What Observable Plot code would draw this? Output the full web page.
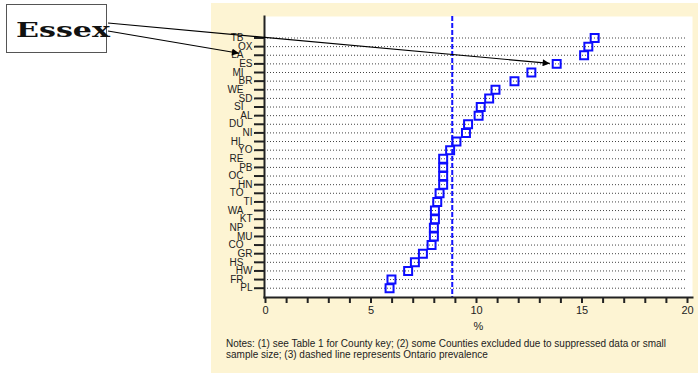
<!DOCTYPE html>
<html>
<head>
<meta charset="utf-8">
<script src="https://cdn.jsdelivr.net/npm/d3@7"></script>
<script src="https://cdn.jsdelivr.net/npm/@observablehq/plot@0.6"></script>
<style>
  html, body { margin: 0; padding: 0; background: #fff; }
  #wrap { position: relative; width: 698px; height: 373px; overflow: hidden;
          font-family: "Liberation Sans", Arial, sans-serif; }
  #panel { position: absolute; left: 211px; top: 3px; width: 487px; height: 370px; background: #fdf4d3; }
  #chart { position: absolute; left: 211px; top: 3px; }
  #notes { position: absolute; left: 226px; top: 338px; font-size: 10px; line-height: 11px;
           color: #222; white-space: nowrap; }
  #overlay { position: absolute; left: 0; top: 0; pointer-events: none; }
</style>
</head>
<body>
<div id="wrap">
  <div id="panel"></div>
  <div id="chart"></div>
  <div id="notes">Notes: (1) see Table 1 for County key; (2) some Counties excluded due to suppressed data or small<br>sample size; (3) dashed line represents Ontario prevalence</div>
  <svg id="overlay" width="698" height="373"></svg>
</div>
<script>
// County codes, top to bottom
const counties = ["TB","OX","LA","ES","MI","BR","WE","SD","SI","AL","DU","NI","HL","YO","RE",
                  "PB","OC","HN","TO","TI","WA","KT","NP","MU","CO","GR","HS","HW","FR","PL"];
// Prevalence (%) per county
const prevalence = [15.6, 15.3, 15.1, 13.8, 12.6, 11.8, 10.9, 10.6, 10.2, 10.1, 9.6, 9.5, 9.05, 8.75, 8.42,
                    8.42, 8.42, 8.42, 8.25, 8.14, 8.03, 8.03, 7.98, 7.98, 7.87, 7.46, 7.08, 6.76, 5.97, 5.88];
// Ontario prevalence (%)
const ontario = 8.85;
// x-axis ticks: every unit, labelled every 5
const xTicks = d3.range(0, 21);
// Highlighted county and the label row its second pointer lands on
const highlight = "ES";
const pointerRow = "LA";

const rows = counties.map((county, i) => ({county, pct: prevalence[i]}));
const leftLabels = counties.filter((_, i) => i % 2 === 0);
const rightLabels = counties.filter((_, i) => i % 2 === 1);

const marginLeft = 53, marginTop = 13;
const chart = Plot.plot({
  width: 487,
  height: 332,
  marginLeft, marginRight: 6, marginTop, marginBottom: 38,
  style: {background: "transparent", fontFamily: "'Liberation Sans', Arial, sans-serif", color: "#222"},
  x: {domain: [0, 20], range: [54, 476]},
  y: {type: "point", domain: counties, range: [34.5, 284.7], padding: 0, round: false},
  marks: [
    Plot.frame({fill: "white", stroke: null}),
    Plot.ruleY(counties, {y: d => d, stroke: "#444", strokeDasharray: "1,2", insetLeft: 3, insetRight: 5}),
    Plot.ruleX([ontario], {stroke: "#1414ff", strokeWidth: 2, strokeDasharray: "5,2"}),
    Plot.dot(rows, {x: "pct", y: "county", symbol: "square", r: 4.5, stroke: "#0d0dff", strokeWidth: 2, fill: "none"}),
    Plot.axisX({ticks: xTicks, tickFormat: d => d % 5 === 0 ? String(d) : "", tickSize: 6, tickPadding: 3,
                strokeWidth: 2, fontSize: 11, label: "%", labelAnchor: "center", labelOffset: 32, labelArrow: "none"}),
    Plot.axisY({ticks: leftLabels, tickSize: 10, tickPadding: 11, strokeWidth: 2, fontSize: 10, label: null}),
    Plot.axisY({ticks: rightLabels, tickSize: 10, tickPadding: 2, strokeWidth: 2, fontSize: 10, label: null}),
    Plot.frame({anchor: "left", strokeWidth: 2}),
    Plot.frame({anchor: "bottom", strokeWidth: 2})
  ]
});
document.getElementById("chart").append(chart);

// Callout box with arrows to the highlighted county
const ox = 211, oy = 3;
const sx = chart.scale("x"), sy = chart.scale("y");
const ov = d3.select("#overlay");
ov.append("defs").append("marker")
  .attr("id", "head").attr("viewBox", "0 0 10 10").attr("refX", 10).attr("refY", 5)
  .attr("markerUnits", "userSpaceOnUse").attr("markerWidth", 9).attr("markerHeight", 7)
  .attr("orient", "auto")
  .append("path").attr("d", "M0,0L10,5L0,10z").attr("fill", "#000");

ov.append("rect").attr("x", 6.5).attr("y", 4.5).attr("width", 100).attr("height", 48)
  .attr("fill", "#fff").attr("stroke", "#555").attr("stroke-width", 1);
ov.append("text").attr("x", 16).attr("y", 36.5).text("Essex")
  .attr("font-family", "'DejaVu Serif', serif")
  .attr("font-weight", "bold").attr("font-size", 21).attr("fill", "#111")
  .attr("textLength", 94).attr("lengthAdjust", "spacingAndGlyphs");

const esValue = prevalence[counties.indexOf(highlight)];
const arrows = [
  {x1: 108, y1: 23, x2: ox + sx.apply(esValue) - 6.5, y2: oy + sy.apply(highlight)},
  {x1: 108, y1: 31, x2: ox + marginLeft - 25, y2: oy + sy.apply(pointerRow) - 1.5}
];
ov.selectAll("line.arrow").data(arrows).join("line").attr("class", "arrow")
  .attr("x1", d => d.x1).attr("y1", d => d.y1).attr("x2", d => d.x2).attr("y2", d => d.y2)
  .attr("stroke", "#000").attr("stroke-width", 1.2).attr("marker-end", "url(#head)");
</script>
</body>
</html>
